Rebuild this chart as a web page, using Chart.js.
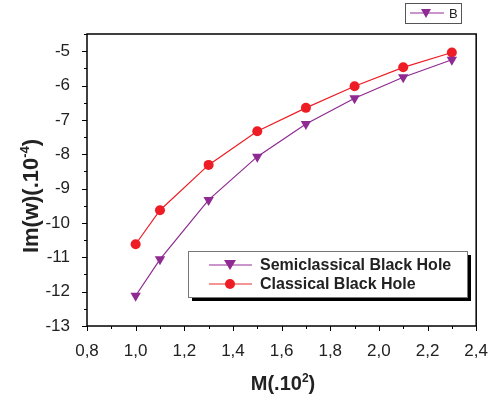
<!DOCTYPE html>
<html><head><meta charset="utf-8">
<script src="https://cdn.jsdelivr.net/npm/chart.js@4"></script>
<style>html,body{margin:0;padding:0;background:#fff}#c{display:block}</style>
</head><body>
<canvas id="c" width="495" height="396"></canvas>
<script>
const massValues = [1.0, 1.1, 1.3, 1.5, 1.7, 1.9, 2.1, 2.3];
const semiclassical = [-12.12, -11.06, -9.33, -8.07, -7.12, -6.37, -5.76, -5.25];
const classical = [-10.62, -9.63, -8.31, -7.33, -6.65, -6.02, -5.47, -5.04];
const xTicks = [0.8, 1.0, 1.2, 1.4, 1.6, 1.8, 2.0, 2.2, 2.4];
const yTicks = [-13, -12, -11, -10, -9, -8, -7, -6, -5];
const seriesNames = ['Semiclassical Black Hole', 'Classical Black Hole'];
const xTitle = ['M(.10', '2', ')'];
const yTitle = ['Im(w)(.10', '-4', ')'];

const PURPLE = '#8e2a92', RED = '#ee1d25';
const FONT = '"Liberation Sans", Arial, sans-serif';

function drawSupTitle(ctx, parts, size) {
  const main = 'bold ' + size + 'px ' + FONT;
  const sup = 'bold ' + Math.round(size * 0.6) + 'px ' + FONT;
  ctx.font = main; const w0 = ctx.measureText(parts[0]).width;
  ctx.font = sup; const w1 = ctx.measureText(parts[1]).width;
  ctx.font = main; const w2 = ctx.measureText(parts[2]).width;
  const total = w0 + w1 + w2;
  let x = -total / 2;
  ctx.textBaseline = 'alphabetic'; ctx.textAlign = 'left';
  ctx.font = main; ctx.fillText(parts[0], x, size * 0.36); x += w0;
  ctx.font = sup; ctx.fillText(parts[1], x, size * 0.36 - size * 0.42); x += w1;
  ctx.font = main; ctx.fillText(parts[2], x, size * 0.36);
}

const decor = {
  id: 'decor',
  afterDraw(chart) {
    const ctx = chart.ctx, a = chart.chartArea;
    const xs = chart.scales.x, ys = chart.scales.y;
    ctx.save();
    ctx.strokeStyle = '#000'; ctx.lineWidth = 1.5;
    ctx.strokeRect(a.left, a.top, a.right - a.left, a.bottom - a.top);
    ctx.lineWidth = 1;
    for (let i = 0; i <= 16; i++) {
      const v = 0.8 + i * 0.1;
      const px = Math.round(xs.getPixelForValue(v)) + 0.5;
      const len = i % 2 === 0 ? 5 : 3;
      ctx.beginPath(); ctx.moveTo(px, a.bottom); ctx.lineTo(px, a.bottom + len); ctx.stroke();
    }
    for (let i = 0; i <= 17; i++) {
      const v = -13 + i * 0.5;
      const py = Math.round(ys.getPixelForValue(v)) + 0.5;
      const len = i % 2 === 0 ? 5 : 3;
      ctx.beginPath(); ctx.moveTo(a.left, py); ctx.lineTo(a.left - len, py); ctx.stroke();
    }
    // axis titles
    ctx.fillStyle = '#222';
    ctx.save(); ctx.translate(283, 383); drawSupTitle(ctx, xTitle, 20); ctx.restore();
    ctx.save(); ctx.translate(30, 196); ctx.rotate(-Math.PI / 2); drawSupTitle(ctx, yTitle, 22); ctx.restore();
    // main legend
    const lx = 188, ly = 251, lw = 279, lh = 46;
    ctx.fillStyle = '#000';
    ctx.fillRect(lx + 4, ly + 4, lw, lh);
    ctx.fillStyle = '#fff';
    ctx.fillRect(lx, ly, lw, lh);
    ctx.strokeStyle = '#777'; ctx.lineWidth = 1;
    ctx.strokeRect(lx + 0.5, ly + 0.5, lw, lh);
    const rows = [
      {name: seriesNames[0], color: PURPLE, light: '#b870bc', tri: true, y: 265},
      {name: seriesNames[1], color: RED, light: '#f27070', tri: false, y: 284}
    ];
    rows.forEach(r => {
      ctx.strokeStyle = r.light; ctx.lineWidth = 1.5;
      ctx.beginPath(); ctx.moveTo(209, r.y); ctx.lineTo(252, r.y); ctx.stroke();
      ctx.fillStyle = r.color;
      if (r.tri) {
        ctx.beginPath(); ctx.moveTo(224, r.y - 5); ctx.lineTo(236, r.y - 5); ctx.lineTo(230, r.y + 5); ctx.closePath(); ctx.fill();
      } else {
        ctx.beginPath(); ctx.arc(230, r.y, 5, 0, Math.PI * 2); ctx.fill();
      }
      ctx.fillStyle = '#222'; ctx.font = 'bold 16px ' + FONT;
      ctx.textBaseline = 'middle'; ctx.textAlign = 'left';
      ctx.fillText(r.name, 260, r.y + 1);
    });
    // top "B" legend
    ctx.strokeStyle = '#555'; ctx.lineWidth = 1;
    ctx.strokeRect(405.5, 3.5, 56, 20);
    ctx.strokeStyle = '#b870bc'; ctx.lineWidth = 1.5;
    ctx.beginPath(); ctx.moveTo(410, 13); ctx.lineTo(444, 13); ctx.stroke();
    ctx.fillStyle = PURPLE;
    ctx.beginPath(); ctx.moveTo(421, 9); ctx.lineTo(431, 9); ctx.lineTo(426, 18); ctx.closePath(); ctx.fill();
    ctx.fillStyle = '#222'; ctx.font = '13px ' + FONT; ctx.textBaseline = 'middle';
    ctx.fillText('B', 449, 14);
    ctx.restore();
  }
};

new Chart(document.getElementById('c'), {
  type: 'line',
  data: {
    datasets: [
      {
        label: seriesNames[0],
        data: massValues.map((x, i) => ({x, y: semiclassical[i]})),
        borderColor: PURPLE, backgroundColor: PURPLE, borderWidth: 1.2,
        pointStyle: 'triangle', rotation: 180, pointRadius: 6, pointHoverRadius: 6,
        pointBorderWidth: 0
      },
      {
        label: seriesNames[1],
        data: massValues.map((x, i) => ({x, y: classical[i]})),
        borderColor: RED, backgroundColor: RED, borderWidth: 1.2,
        pointStyle: 'circle', pointRadius: 5, pointHoverRadius: 5, pointBorderWidth: 0
      }
    ]
  },
  plugins: [decor],
  options: {
    responsive: false, animation: false,
    layout: {padding: {left: 0, right: 16, top: 34, bottom: 0}},
    plugins: {legend: {display: false}, tooltip: {enabled: false}},
    scales: {
      x: {
        type: 'linear', min: 0.8, max: 2.4,
        afterBuildTicks: s => { s.ticks = xTicks.map(v => ({value: v})); },
        afterFit: s => { s.height = 70; },
        grid: {display: false}, border: {display: false},
        ticks: {
          color: '#222', font: {family: FONT, size: 17}, padding: 7,
          maxRotation: 0, autoSkip: false,
          callback: v => v.toFixed(1).replace('.', ',')
        }
      },
      y: {
        type: 'linear', min: -13, max: -4.5,
        afterBuildTicks: s => { s.ticks = yTicks.map(v => ({value: v})); },
        afterFit: s => { s.width = 87; },
        grid: {display: false}, border: {display: false},
        ticks: {color: '#222', font: {family: FONT, size: 17}, padding: 9}
      }
    }
  }
});
</script>
</body></html>
